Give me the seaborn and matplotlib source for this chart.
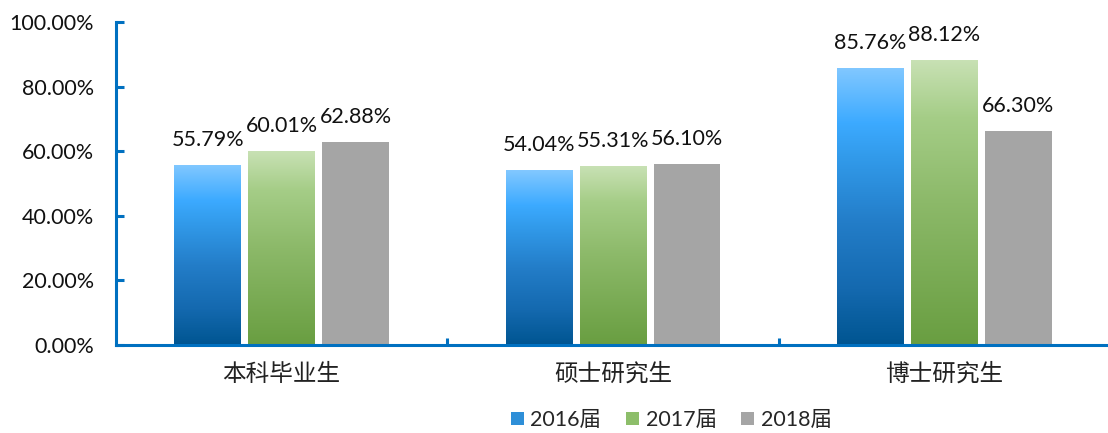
import numpy as np
import pandas as pd
import matplotlib
matplotlib.use("Agg")
import matplotlib.pyplot as plt
import seaborn as sns
from matplotlib.colors import LinearSegmentedColormap
from matplotlib.patches import Patch

# Graduate employment rate by degree level and cohort (%)
categories = ["本科毕业生", "硕士研究生", "博士研究生"]
cohorts = ["2016届", "2017届", "2018届"]
rate_2016 = [55.79, 54.04, 85.76]
rate_2017 = [60.01, 55.31, 88.12]
rate_2018 = [62.88, 56.10, 66.30]
y_ticks = [0, 20, 40, 60, 80, 100]

series = {"2016届": rate_2016, "2017届": rate_2017, "2018届": rate_2018}
df = pd.DataFrame(
    [(cat, coh, vals[i]) for coh, vals in series.items() for i, cat in enumerate(categories)],
    columns=["category", "cohort", "rate"],
)

sns.set_theme(style="white")
plt.rcParams["font.family"] = ["Lato", "Noto Sans CJK SC"]

AXIS_BLUE = "#0070C0"
TEXT = "#111111"
NUM_SIZE = 15.5


def rgb(*c):
    return tuple(v / 255 for v in c)


# vertical gradients, listed bottom -> top
grad_maps = {
    "2016届": LinearSegmentedColormap.from_list("blue_grad", [
        (0.00, rgb(0, 85, 145)), (0.20, rgb(20, 105, 175)), (0.44, rgb(35, 125, 200)),
        (0.68, rgb(50, 155, 235)), (0.80, rgb(60, 170, 255)), (1.00, rgb(130, 200, 255))]),
    "2017届": LinearSegmentedColormap.from_list("green_grad", [
        (0.00, rgb(105, 158, 65)), (0.50, rgb(140, 185, 105)), (0.80, rgb(165, 205, 135)),
        (1.00, rgb(200, 225, 180))]),
    "2018届": None,
}
palette = {"2016届": "#2E8FD8", "2017届": "#8DBE6A", "2018届": "#A5A5A5"}

fig = plt.figure(figsize=(11.08, 4.33), dpi=100)
ax = fig.add_axes([116 / 1108, 88 / 433, 994 / 1108, 323 / 433])

sns.barplot(data=df, x="category", y="rate", hue="cohort", hue_order=cohorts,
            order=categories, palette=palette, width=0.67, gap=0.1,
            saturation=1, legend=False, ax=ax, linewidth=0)

# gradient fills clipped to each bar
for container, coh in zip(ax.containers, cohorts):
    cmap = grad_maps[coh]
    if cmap is None:
        continue
    for bar in container:
        x0, w, h = bar.get_x(), bar.get_width(), bar.get_height()
        grad = np.linspace(1, 0, 256).reshape(-1, 1)
        im = ax.imshow(grad, cmap=cmap, extent=[x0, x0 + w, 0, h],
                       aspect="auto", zorder=bar.get_zorder() + 0.1,
                       interpolation="bilinear")
        im.set_clip_path(bar)

for container, coh in zip(ax.containers, cohorts):
    ax.bar_label(container, labels=[f"{v:.2f}%" for v in series[coh]],
                 padding=11, fontsize=NUM_SIZE, color=TEXT)

ax.set_xlim(-0.5, 2.5)
ax.set_ylim(0, 100)
ax.set_yticks(y_ticks)
ax.set_yticklabels([f"{t:.2f}%" for t in y_ticks])
ax.set_xlabel("")
ax.set_ylabel("")

for side in ("top", "right"):
    ax.spines[side].set_visible(False)
for side in ("left", "bottom"):
    ax.spines[side].set_color(AXIS_BLUE)
    ax.spines[side].set_linewidth(2.2)

ax.tick_params(axis="y", direction="in", length=6, width=2.2, color=AXIS_BLUE,
               pad=16, labelsize=NUM_SIZE, labelcolor=TEXT, left=True)
ax.tick_params(axis="x", which="major", length=0, pad=13, labelsize=17, labelcolor="#222222")
ax.set_xticks([0.5, 1.5], minor=True)
ax.tick_params(axis="x", which="minor", direction="in", length=5, width=2.2,
               color=AXIS_BLUE, bottom=True)
for lbl in ax.get_xticklabels():
    lbl.set_fontfamily(["Noto Sans CJK SC"])

handles = [Patch(facecolor=palette[c], edgecolor="none") for c in cohorts]
fig.legend(handles, cohorts, loc="center", bbox_to_anchor=(0.606, 1 - 420 / 433),
           ncol=3, frameon=False, fontsize=NUM_SIZE, handlelength=0.6, handleheight=0.6,
           handletextpad=0.3, columnspacing=1.15)

fig.savefig("out.png", dpi=100)
